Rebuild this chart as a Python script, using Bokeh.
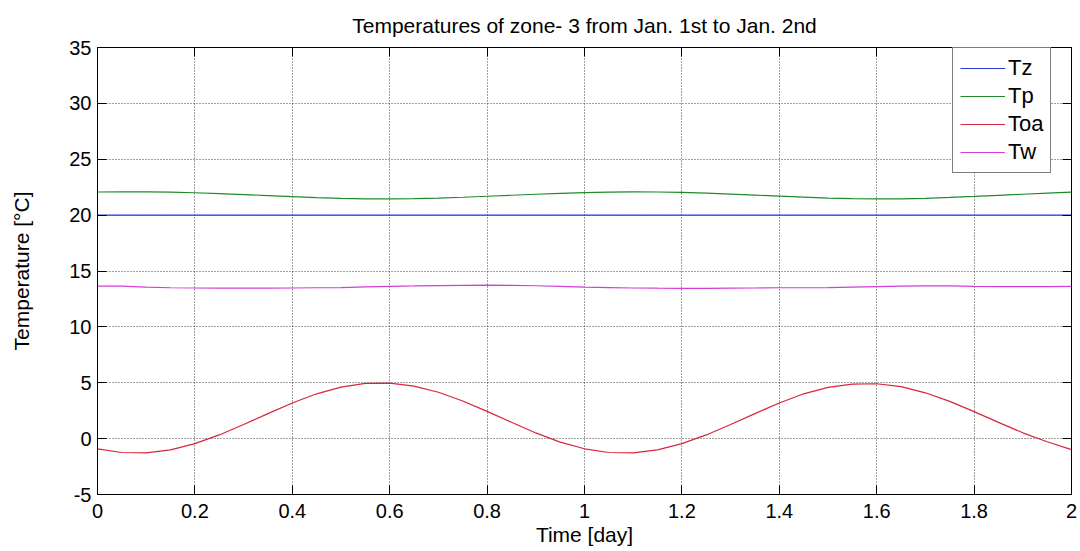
from bokeh.plotting import figure
from bokeh.models import Range1d, FixedTicker, LinearAxis, Legend, LegendItem
from bokeh.embed import file_html
from bokeh.resources import INLINE

# ---- data ----
time_day = [0.00, 0.05, 0.10, 0.15, 0.20, 0.25, 0.30, 0.35, 0.40, 0.45,
            0.50, 0.55, 0.60, 0.65, 0.70, 0.75, 0.80, 0.85, 0.90, 0.95,
            1.00, 1.05, 1.10, 1.15, 1.20, 1.25, 1.30, 1.35, 1.40, 1.45,
            1.50, 1.55, 1.60, 1.65, 1.70, 1.75, 1.80, 1.85, 1.90, 1.95, 2.00]

Tz = [20.0] * 41

Tp = [22.07, 22.08, 22.08, 22.05, 22.00, 21.92, 21.84, 21.75, 21.66, 21.57,
      21.50, 21.46, 21.45, 21.47, 21.52, 21.60, 21.69, 21.78, 21.87, 21.95,
      22.02, 22.06, 22.08, 22.07, 22.03, 21.96, 21.88, 21.79, 21.70, 21.61,
      21.53, 21.48, 21.45, 21.46, 21.50, 21.58, 21.67, 21.77, 21.87, 21.97, 22.06]

Toa = [-0.91, -1.24, -1.28, -1.00, -0.45, 0.33, 1.26, 2.24, 3.19, 4.01,
       4.61, 4.94, 4.97, 4.70, 4.15, 3.37, 2.44, 1.46, 0.51, -0.31,
       -0.91, -1.24, -1.28, -1.00, -0.45, 0.33, 1.26, 2.24, 3.19, 4.01,
       4.58, 4.88, 4.91, 4.65, 4.10, 3.33, 2.42, 1.45, 0.52, -0.28, -0.98]

Tw = [13.65, 13.65, 13.55, 13.50, 13.48, 13.46, 13.46, 13.47, 13.48, 13.50,
      13.52, 13.58, 13.63, 13.66, 13.70, 13.72, 13.73, 13.72, 13.68, 13.62,
      13.56, 13.52, 13.48, 13.46, 13.45, 13.45, 13.46, 13.48, 13.50, 13.50,
      13.51, 13.55, 13.60, 13.64, 13.66, 13.66, 13.62, 13.60, 13.60, 13.60, 13.62]

x_ticks = [0, 0.2, 0.4, 0.6, 0.8, 1.0, 1.2, 1.4, 1.6, 1.8, 2.0]
x_tick_labels = ["0", "0.2", "0.4", "0.6", "0.8", "1", "1.2", "1.4", "1.6", "1.8", "2"]
y_ticks = [-5, 0, 5, 10, 15, 20, 25, 30, 35]
y_tick_labels = ["-5", "0", "5", "10", "15", "20", "25", "30", "35"]

series_names = ["Tz", "Tp", "Toa", "Tw"]
series_values = [Tz, Tp, Toa, Tw]
series_colors = ["#2b3bd0", "#1f8a2a", "#d8263a", "#d23ed6"]

FONT = "Liberation Sans"

p = figure(width=1080, height=551, output_backend="svg", toolbar_location=None,
           x_range=Range1d(0, 2), y_range=Range1d(-5, 35),
           title="Temperatures of zone- 3 from Jan. 1st to Jan. 2nd",
           min_border_left=97, min_border_right=9, min_border_top=46, min_border_bottom=57)

p.background_fill_color = "white"
p.border_fill_color = "white"
p.outline_line_color = "black"
p.outline_line_width = 1

p.title.align = "center"
p.title.text_font = FONT
p.title.text_font_size = "21px"
p.title.text_font_style = "normal"
p.title.text_color = "black"
p.title.standoff = 22

xt = FixedTicker(ticks=x_ticks)
yt = FixedTicker(ticks=y_ticks)

for ax in p.xaxis:
    ax.ticker = xt
    ax.major_label_overrides = {t: l for t, l in zip(x_ticks, x_tick_labels)}
    ax.axis_label = "Time [day]"
    ax.axis_label_standoff = 2
    ax.major_label_standoff = 9
for ax in p.yaxis:
    ax.ticker = yt
    ax.major_label_overrides = {t: l for t, l in zip(y_ticks, y_tick_labels)}
    ax.axis_label = "Temperature [°C]"
    ax.axis_label_standoff = 33
    ax.major_label_standoff = 6

for ax in list(p.xaxis) + list(p.yaxis):
    ax.major_tick_in = 9
    ax.major_tick_out = 0
    ax.minor_tick_in = 0
    ax.minor_tick_out = 0
    ax.axis_line_color = "black"
    ax.major_tick_line_color = "black"
    ax.major_label_text_font = FONT
    ax.major_label_text_font_size = "20px"
    ax.major_label_text_color = "black"
    ax.axis_label_text_font = FONT
    ax.axis_label_text_font_size = "21px"
    ax.axis_label_text_font_style = "normal"
    ax.axis_label_text_color = "black"

# mirrored tick axes (MATLAB box style), no labels drawn
top_ax = LinearAxis(ticker=xt, major_tick_in=9, major_tick_out=0, minor_tick_in=0, minor_tick_out=0,
                    major_label_text_font_size="1px", major_label_text_color=None,
                    major_label_standoff=0,
                    axis_line_color="black", major_tick_line_color="black")
right_ax = LinearAxis(ticker=yt, major_tick_in=9, major_tick_out=0, minor_tick_in=0, minor_tick_out=0,
                      major_label_text_font_size="1px", major_label_text_color=None,
                      major_label_standoff=0,
                      axis_line_color="black", major_tick_line_color="black")
p.add_layout(top_ax, "above")
p.add_layout(right_ax, "right")

for g in p.grid:
    g.grid_line_color = "black"
    g.grid_line_alpha = 0.75
    g.grid_line_dash = "1 2"
    g.grid_line_width = 1
p.xgrid.ticker = xt
p.ygrid.ticker = yt

items = []
for name, vals, col in zip(series_names, series_values, series_colors):
    r = p.line(time_day, vals, line_color=col, line_width=1.2)
    items.append(LegendItem(label=name, renderers=[r]))

legend = Legend(items=items, location=(855, 321))
legend.label_text_font = FONT
legend.label_text_font_size = "22px"
legend.label_text_color = "black"
legend.glyph_width = 45
legend.glyph_height = 26
legend.label_height = 26
legend.label_standoff = 3
legend.spacing = 2
legend.padding = 7
legend.margin = 0
legend.border_line_color = "black"
legend.border_line_width = 1
legend.background_fill_color = "white"
legend.background_fill_alpha = 1.0
p.add_layout(legend)

open("out.html", "w").write(file_html(p, INLINE))
